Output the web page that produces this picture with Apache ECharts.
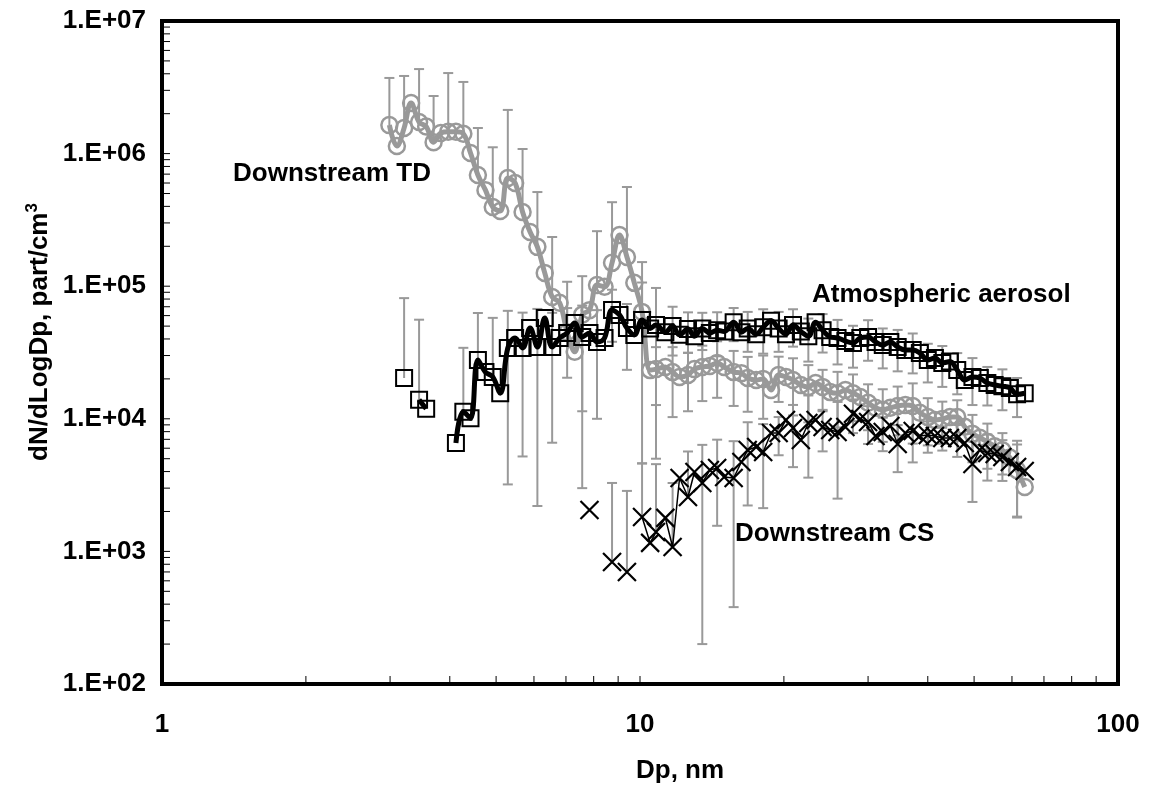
<!DOCTYPE html>
<html>
<head>
<meta charset="utf-8">
<script src="https://cdn.jsdelivr.net/npm/echarts@6/dist/echarts.min.js"></script>
<style>
  html, body { margin: 0; padding: 0; background: #fff; }
  #chart { width: 1151px; height: 792px; }
</style>
</head>
<body>
<div id="chart"></div>
<script>
// Channel mid-point diameters, nm (64 channels per decade)
const diameters = [2.99,3.10,3.21,3.32,3.45,3.57,3.70,3.83,3.97,4.12,
  4.27,4.42,4.58,4.75,4.92,5.10,5.29,5.48,5.68,5.89,
  6.10,6.32,6.55,6.79,7.04,7.30,7.57,7.84,8.13,8.43,
  8.74,9.06,9.39,9.73,10.1,10.5,10.8,11.3,11.7,12.1,
  12.6,13.0,13.5,14.0,14.5,15.0,15.7,16.3,16.8,17.5,
  18.1,18.8,19.5,20.2,20.9,21.7,22.5,23.3,24.1,25.0,
  25.9,26.9,27.9,28.9,30.0,31.1,32.2,33.4,34.6,35.9,
  37.2,38.5,40.0,41.4,42.9,44.5,46.1,47.8,49.6,51.4,
  53.3,55.2,57.3,59.4,61.5,63.8];

// dN/dLogDp, part/cm3 — downstream of the thermodenuder
const tdValues = [1.64e6,1.14e6,1.56e6,2.41e6,1.73e6,1.6e6,1.22e6,1.43e6,1.46e6,1.46e6,
  1.41e6,1.01e6,6.9e5,5.3e5,3.96e5,3.69e5,6.55e5,6.0e5,3.63e5,2.56e5,
  1.98e5,1.26e5,8.3e4,7.5e4,4.5e4,3.2e4,6.1e4,6.6e4,1.02e5,9.9e4,
  1.5e5,2.43e5,1.66e5,1.06e5,6.4e4,2.33e4,2.37e4,2.46e4,2.25e4,2.07e4,
  2.14e4,2.37e4,2.46e4,2.5e4,2.64e4,2.46e4,2.25e4,2.21e4,2.03e4,1.96e4,
  2.0e4,1.65e4,2.14e4,2.07e4,1.96e4,1.8e4,1.74e4,1.86e4,1.74e4,1.59e4,
  1.56e4,1.65e4,1.56e4,1.46e4,1.32e4,1.21e4,1.17e4,1.21e4,1.25e4,1.27e4,
  1.25e4,1.11e4,1.03e4,9.8e3,9.97e3,1.03e4,1.03e4,8.7e3,7.7e3,7.2e3,
  6.7e3,6.2e3,5.8e3,5.1e3,4.1e3,3.06e3];

// Atmospheric aerosol
const atmValues = [null,null,2.03e4,null,1.39e4,1.19e4,null,null,null,6.57e3,
  1.13e4,1.01e4,2.78e4,2.25e4,2.07e4,1.56e4,3.42e4,4.07e4,3.42e4,4.84e4,
  3.48e4,5.76e4,3.48e4,4.07e4,4.44e4,5.28e4,4.14e4,4.44e4,3.8e4,4.07e4,
  6.61e4,6.07e4,4.84e4,4.29e4,5.56e4,4.8e4,5.1e4,4.5e4,5.0e4,4.3e4,
  4.75e4,4.2e4,4.8e4,4.44e4,4.66e4,4.55e4,5.35e4,4.5e4,4.8e4,4.35e4,
  4.9e4,5.5e4,4.8e4,4.35e4,5.1e4,4.55e4,4.2e4,5.35e4,4.66e4,4.14e4,
  4.07e4,3.86e4,3.73e4,4.07e4,4.14e4,3.8e4,3.6e4,3.8e4,3.48e4,3.3e4,
  3.3e4,3.14e4,2.78e4,2.88e4,2.64e4,2.7e4,2.33e4,1.96e4,2.07e4,2.03e4,
  1.86e4,1.8e4,1.76e4,1.71e4,1.53e4,1.56e4];

// Downstream of the catalytic stripper
const csValues = [null,null,null,null,null,null,null,null,null,null,
  null,null,null,null,null,null,null,null,null,null,
  null,null,null,null,null,null,null,2.05e3,null,null,
  832,null,699,null,1.82e3,1.16e3,1.4e3,1.79e3,1.08e3,3.58e3,
  2.57e3,3.97e3,3.28e3,4.11e3,4.26e3,3.64e3,3.58e3,4.72e3,5.82e3,6.13e3,
  5.62e3,7.81e3,7.81e3,9.8e3,8.52e3,6.92e3,9.3e3,9.8e3,8.68e3,8.23e3,
  7.95e3,8.68e3,1.09e4,9.97e3,9.46e3,7.42e3,7.95e3,8.83e3,6.46e3,7.81e3,
  8.09e3,7.42e3,7.55e3,7.42e3,7.16e3,7.16e3,7.16e3,6.57e3,4.56e3,5.82e3,
  5.52e3,5.43e3,5.15e3,4.72e3,4.33e3,4.04e3];

// Standard deviations, given on every second channel (0, 2, 4, ... 84)
const tdErr = [2.08e6,2.29e6,2.61e6,1.5e6,2.59e6,2.06e6,8.7e5,7.2e5,1.48e6,7.2e5,
  3.15e5,1.52e5,6.3e4,5.8e4,1.58e5,2.8e5,3.94e5,8.8e4,1.1e4,1.22e4,
  1.0e4,1.1e4,1.2e4,1.0e4,9e3,1.0e4,8e3,9e3,8e3,6e3,
  7e3,6e3,5e3,5e3,5e3,6e3,4e3,3.5e3,3.5e3,3e3,
  2.5e3,2e3,2.3e3];
const atmErr = [null,6.1e4,4.2e4,null,null,2.3e4,3.5e4,3.7e4,3.1e4,2.9e4,
  3.26e4,2.82e4,2.4e4,3.0e4,2.8e4,2.8e4,2.5e4,5.1e4,4.6e4,2.0e4,
  1.6e4,1.5e4,1.7e4,1.5e4,1.6e4,1.8e4,1.6e4,1.6e4,1.5e4,1.5e4,
  1.5e4,1.3e4,1.4e4,1.2e4,1.2e4,1.1e4,9e3,9e3,8e3,8e3,
  6e3,6e3,5e3];
const csErr = [null,null,null,null,null,null,null,null,null,null,
  null,null,null,null,null,2.45e3,2.16e3,2.8e3,3.15e3,2.2e3,
  3.1e3,3.08e3,2.7e3,3.2e3,3.6e3,3.5e3,2.5e3,4.2e3,5.7e3,3.0e3,
  5.45e3,3.1e3,3.0e3,2.25e3,2.5e3,3.4e3,2.0e3,1.4e3,2.0e3,2.2e3,
  2.1e3,1.75e3,2.5e3];

// Axis labels
const yLabelValues = [1e2, 1e3, 1e4, 1e5, 1e6, 1e7];
const yLabelTexts = ['1.E+02', '1.E+03', '1.E+04', '1.E+05', '1.E+06', '1.E+07'];
const xLabelValues = [1, 10, 100];
const xLabelTexts = ['1', '10', '100'];

const FONT = '"Liberation Sans", Arial, Helvetica, sans-serif';
const GRAY = '#999999';

function pairs(values) {
  return diameters.map((d, i) => [d, values[i] == null ? '-' : values[i]]);
}
function errPairs(values, errs) {
  const out = [];
  errs.forEach((sd, k) => {
    const ch = 2 * k;
    if (sd != null && values[ch] != null) out.push([diameters[ch], values[ch], sd]);
  });
  return out;
}

// minor/major tick positions for the log axes
const yTicks = [];
for (let e = 2; e <= 6; e++) for (let m = 1; m <= 9; m++) yTicks.push(m * Math.pow(10, e));
yTicks.push(1e7);
const xTicks = [];
for (let e = 0; e <= 1; e++) for (let m = 1; m <= 9; m++) xTicks.push(m * Math.pow(10, e));
xTicks.push(100);

// vertical error bar: v ± sd, lower half omitted when it would fall below zero
function renderErrorBar(params, api) {
  const x = api.value(0), v = api.value(1), sd = api.value(2);
  const mid = api.coord([x, v]);
  const top = api.coord([x, v + sd]);
  const half = 5;
  const style = { stroke: GRAY, lineWidth: 2 };
  const children = [
    { type: 'line', shape: { x1: mid[0], y1: mid[1], x2: top[0], y2: top[1] }, style },
    { type: 'line', shape: { x1: top[0] - half, y1: top[1], x2: top[0] + half, y2: top[1] }, style }
  ];
  if (v - sd > 0) {
    const bot = api.coord([x, v - sd]);
    children.push({ type: 'line', shape: { x1: mid[0], y1: mid[1], x2: bot[0], y2: bot[1] }, style });
    children.push({ type: 'line', shape: { x1: bot[0] - half, y1: bot[1], x2: bot[0] + half, y2: bot[1] }, style });
  }
  return { type: 'group', children };
}

function renderYTick(params, api) {
  const p = api.coord([api.value(0), api.value(1)]);
  return { type: 'line', shape: { x1: p[0] + 2, y1: p[1], x2: p[0] + 8, y2: p[1] },
           style: { stroke: '#000', lineWidth: 1 } };
}
function renderXTick(params, api) {
  const p = api.coord([api.value(0), api.value(1)]);
  return { type: 'line', shape: { x1: p[0], y1: p[1] - 2, x2: p[0], y2: p[1] - 8 },
           style: { stroke: '#000', lineWidth: 1 } };
}

const chart = echarts.init(document.getElementById('chart'), null, { renderer: 'canvas' });

const labelStyle = { fontFamily: FONT, fontWeight: 'bold', fontSize: 26, color: '#000' };

chart.setOption({
  animation: false,
  backgroundColor: '#fff',
  grid: { left: 162, right: 33, top: 21, bottom: 108, show: true,
          borderColor: '#000', borderWidth: 4, backgroundColor: 'transparent' },
  xAxis: {
    type: 'log', logBase: 10, min: 1, max: 100, splitNumber: 2,
    axisLine: { show: false }, axisTick: { show: false }, splitLine: { show: false },
    axisLabel: Object.assign({ margin: 28,
      formatter: v => { const i = xLabelValues.findIndex(t => Math.abs(t - v) < 1e-6 * t); return i < 0 ? '' : xLabelTexts[i]; } }, labelStyle)
  },
  yAxis: {
    type: 'log', logBase: 10, min: 100, max: 1e7, splitNumber: 5,
    axisLine: { show: false }, axisTick: { show: false }, splitLine: { show: false },
    axisLabel: Object.assign({ margin: 16,
      formatter: v => { const i = yLabelValues.findIndex(t => Math.abs(t - v) < 1e-6 * t); return i < 0 ? '' : yLabelTexts[i]; } }, labelStyle)
  },
  graphic: [
    { type: 'text', left: 233, top: 161, style: { text: 'Downstream TD', font: 'bold 26px ' + FONT, fill: '#000' } },
    { type: 'text', left: 812, top: 282, style: { text: 'Atmospheric aerosol', font: 'bold 26px ' + FONT, fill: '#000' } },
    { type: 'text', left: 735, top: 521, style: { text: 'Downstream CS', font: 'bold 26px ' + FONT, fill: '#000' } },
    { type: 'text', left: 636, top: 758, style: { text: 'Dp, nm', font: 'bold 26px ' + FONT, fill: '#000' } },
    { type: 'text', x: 40, y: 332, rotation: Math.PI / 2,
      style: { text: '{b|dN/dLogDp, part/cm}{s|3}', align: 'center', verticalAlign: 'middle',
        rich: { b: { font: 'bold 26px ' + FONT, fill: '#000', lineHeight: 32 },
                s: { font: 'bold 17px ' + FONT, fill: '#000', lineHeight: 32, verticalAlign: 'top', padding: [0, 0, 14, 0] } } } }
  ],
  series: [
    { name: 'td-err', type: 'custom', renderItem: renderErrorBar, data: errPairs(tdValues, tdErr), z: 1, silent: true },
    { name: 'atm-err', type: 'custom', renderItem: renderErrorBar, data: errPairs(atmValues, atmErr), z: 1, silent: true },
    { name: 'cs-err', type: 'custom', renderItem: renderErrorBar, data: errPairs(csValues, csErr), z: 1, silent: true },
    { name: 'Downstream TD', type: 'line', data: pairs(tdValues), smooth: 0.4, z: 2,
      symbol: 'circle', symbolSize: 16, showAllSymbol: true,
      lineStyle: { color: GRAY, width: 5 },
      itemStyle: { color: 'rgba(0,0,0,0)', borderColor: GRAY, borderWidth: 2.5 } },
    { name: 'Atmospheric aerosol', type: 'line', data: pairs(atmValues), smooth: 0.4, z: 3,
      symbol: 'rect', symbolSize: 16, showAllSymbol: true,
      lineStyle: { color: '#000', width: 5 },
      itemStyle: { color: 'rgba(0,0,0,0)', borderColor: '#000', borderWidth: 2 } },
    { name: 'Downstream CS', type: 'line', data: pairs(csValues), z: 4,
      symbol: 'path://M0,0L10,10M10,0L0,10', symbolSize: 18, showAllSymbol: true,
      lineStyle: { color: '#000', width: 1.5 },
      itemStyle: { color: 'rgba(0,0,0,0)', borderColor: '#000', borderWidth: 2.2 } },
    { name: 'y-ticks', type: 'custom', renderItem: renderYTick, data: yTicks.map(v => [1, v]), z: 5, silent: true, clip: false },
    { name: 'x-ticks', type: 'custom', renderItem: renderXTick, data: xTicks.map(v => [v, 100]), z: 5, silent: true, clip: false }
  ]
});
</script>
</body>
</html>
